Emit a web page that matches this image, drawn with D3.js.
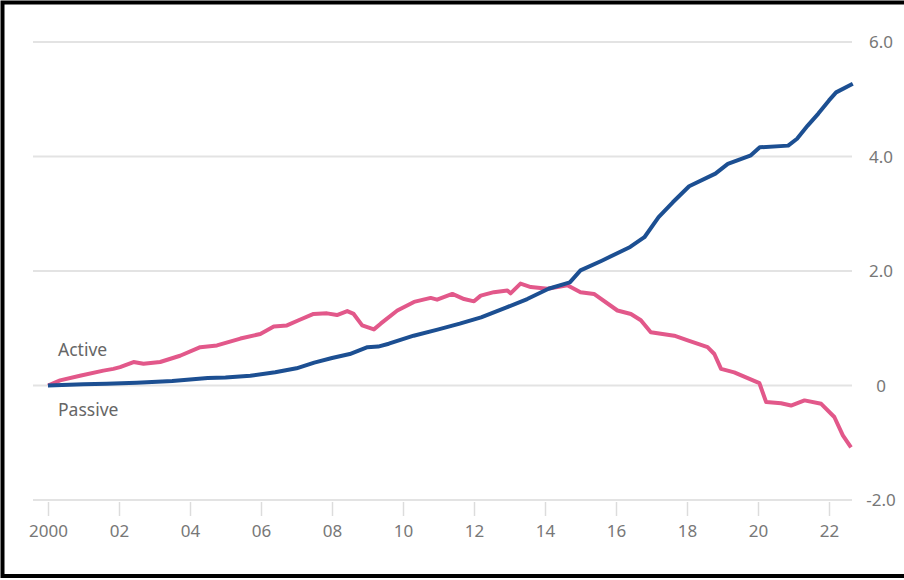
<!DOCTYPE html>
<html lang="en">
  <head>
    <meta charset="UTF-8" />
    <title>Active vs Passive</title>
    <script src="https://d3js.org/d3.v7.min.js"></script>
    <style>
      body { margin: 0; background: #fff; }
      text { font-family: "Noto Sans", sans-serif; }
    </style>
  </head>
  <body>
    <div id="chart"></div>
    <script>
      // values, year as decimal
      var activeYears = [2000, 2000.34, 2000.9, 2001.56, 2001.84, 2002.03, 2002.41, 2002.69, 2003.16, 2003.72,
        2004.29, 2004.76, 2005.42, 2005.98, 2006.36, 2006.73, 2007.06, 2007.48, 2007.86, 2008.14, 2008.43,
        2008.61, 2008.85, 2009.18, 2009.37, 2009.84, 2010.31, 2010.78, 2010.96, 2011.39, 2011.72, 2012.0,
        2012.19, 2012.56, 2012.94, 2013.03, 2013.31, 2013.6, 2014.07, 2014.63, 2015.0, 2015.38, 2016.04,
        2016.42, 2016.7, 2016.98, 2017.64, 2018.02, 2018.58, 2018.77, 2018.96, 2019.33, 2020.04, 2020.23,
        2020.65, 2020.93, 2021.31, 2021.78, 2022.15, 2022.39, 2022.62];
      var activeValues = [0, 0.09, 0.17, 0.26, 0.29, 0.32, 0.41, 0.38, 0.41, 0.52,
        0.67, 0.70, 0.82, 0.90, 1.03, 1.05, 1.14, 1.25, 1.26, 1.23, 1.30,
        1.25, 1.05, 0.98, 1.08, 1.31, 1.46, 1.53, 1.50, 1.60, 1.51, 1.47,
        1.57, 1.63, 1.66, 1.61, 1.78, 1.72, 1.69, 1.75, 1.63, 1.60, 1.31,
        1.25, 1.14, 0.93, 0.87, 0.79, 0.67, 0.55, 0.29, 0.23, 0.04, -0.29,
        -0.31, -0.35, -0.26, -0.32, -0.55, -0.87, -1.08];

      var passiveYears = [2000, 2001.0, 2001.65, 2002.5, 2003.5, 2004.5, 2005.0, 2005.7, 2006.4, 2007.0,
        2007.5, 2008.0, 2008.5, 2009.0, 2009.3, 2009.6, 2010.3, 2011.0, 2011.6, 2012.2, 2012.9, 2013.5,
        2014.1, 2014.7, 2015.0, 2015.6, 2016.4, 2016.8, 2017.2, 2017.6, 2018.06, 2018.8, 2019.15, 2019.8,
        2020.05, 2020.85, 2021.1, 2021.4, 2021.7, 2022.0, 2022.2, 2022.67];
      var passiveValues = [0, 0.02, 0.03, 0.05, 0.08, 0.13, 0.14, 0.17, 0.23, 0.30,
        0.40, 0.48, 0.55, 0.67, 0.68, 0.73, 0.87, 0.98, 1.08, 1.19, 1.36, 1.51,
        1.69, 1.80, 2.01, 2.18, 2.42, 2.59, 2.94, 3.20, 3.48, 3.70, 3.87, 4.02,
        4.16, 4.19, 4.31, 4.54, 4.75, 4.98, 5.12, 5.27];

      var xTickYears = [2000, 2002, 2004, 2006, 2008, 2010, 2012, 2014, 2016, 2018, 2020, 2022];
      var xTickLabels = ["2000", "02", "04", "06", "08", "10", "12", "14", "16", "18", "20", "22"];
      var yTicks = [-2, 0, 2, 4, 6];
      var yTickLabels = ["-2.0", "0", "2.0", "4.0", "6.0"];

      var width = 904, height = 580;

      var svg = d3.select("#chart").append("svg")
        .attr("width", width)
        .attr("height", height);

      var x = d3.scaleLinear().domain([2000, 2022]).range([48, 829]);
      var y = d3.scaleLinear().domain([-2, 6]).range([500, 42]);

      // gridlines
      svg.append("g")
        .selectAll("line")
        .data(yTicks)
        .join("line")
        .attr("x1", 33)
        .attr("x2", 852)
        .attr("y1", d => y(d))
        .attr("y2", d => y(d))
        .attr("stroke", "#e3e3e3")
        .attr("stroke-width", 2);

      // y labels on the right
      svg.append("g")
        .selectAll("text")
        .data(yTicks)
        .join("text")
        .attr("x", 881)
        .attr("y", d => y(d) + 6)
        .attr("text-anchor", "middle")
        .attr("fill", "#777")
        .style("font-size", "17px")
        .text((d, i) => yTickLabels[i]);

      // x axis
      var xAxis = d3.axisBottom(x)
        .tickValues(xTickYears)
        .tickFormat((d, i) => xTickLabels[i])
        .tickSize(14)
        .tickPadding(9);

      var gx = svg.append("g")
        .attr("transform", "translate(0," + (y(-2) + 2) + ")")
        .call(xAxis);
      gx.select(".domain").remove();
      gx.selectAll("line").attr("stroke", "#dcdcdc").attr("stroke-width", 1.5);
      gx.selectAll("text")
        .attr("fill", "#777")
        .style("font-size", "17px")
        .style("font-family", "'Noto Sans', sans-serif");

      var line = d3.line()
        .x(d => x(d[0]))
        .y(d => y(d[1]));

      var active = activeYears.map((yr, i) => [yr, activeValues[i]]);
      var passive = passiveYears.map((yr, i) => [yr, passiveValues[i]]);

      svg.append("path")
        .datum(active)
        .attr("fill", "none")
        .attr("stroke", "#e2588a")
        .attr("stroke-width", 4)
        .attr("stroke-linejoin", "round")
        .attr("d", line);

      svg.append("path")
        .datum(passive)
        .attr("fill", "none")
        .attr("stroke", "#1c4f92")
        .attr("stroke-width", 4)
        .attr("stroke-linejoin", "round")
        .attr("d", line);

      svg.append("text")
        .attr("x", 58)
        .attr("y", 356)
        .attr("fill", "#666")
        .style("font-size", "17.5px")
        .text("Active");

      svg.append("text")
        .attr("x", 58)
        .attr("y", 416)
        .attr("fill", "#666")
        .style("font-size", "17.5px")
        .text("Passive");

      // black frame
      svg.append("rect")
        .attr("x", 2.5)
        .attr("y", 2.5)
        .attr("width", 920)
        .attr("height", 573.5)
        .attr("fill", "none")
        .attr("stroke", "#000")
        .attr("stroke-width", 4);
    </script>
  </body>
</html>
